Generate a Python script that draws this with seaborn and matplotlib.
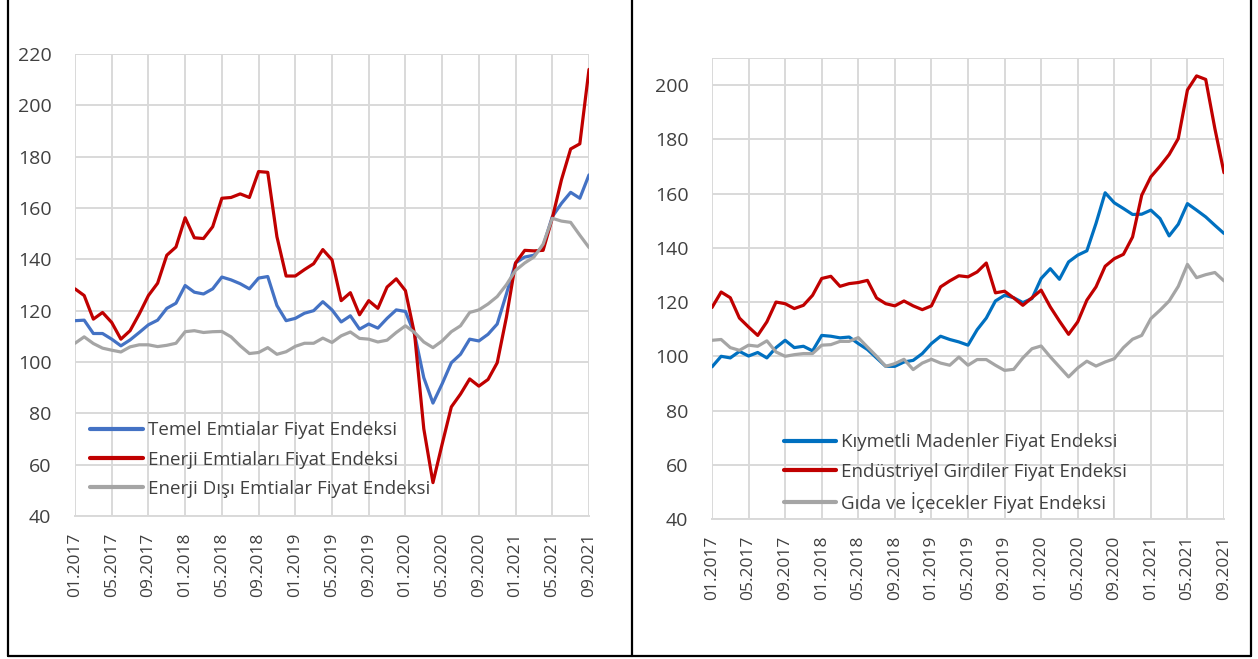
import numpy as np
import pandas as pd
import seaborn as sns
import matplotlib
matplotlib.use("Agg")
import matplotlib.pyplot as plt
from matplotlib.lines import Line2D

# ---------------- data ----------------
months = [f"{m:02d}.{y}" for y in range(2017, 2022) for m in range(1, 13)][:57]
tick_labels = ["01.2017", "05.2017", "09.2017", "01.2018", "05.2018", "09.2018",
               "01.2019", "05.2019", "09.2019", "01.2020", "05.2020", "09.2020",
               "01.2021", "05.2021", "09.2021"]

left_names = ["Temel Emtialar Fiyat Endeksi", "Enerji Emtiaları Fiyat Endeksi",
              "Enerji Dışı Emtialar Fiyat Endeksi"]
temel = [116.1, 116.3, 111.1, 111.1, 108.9, 106.3, 108.6, 111.5, 114.5, 116.3,
         120.9, 122.9, 129.8, 127.2, 126.5, 128.5, 133.1, 132.0, 130.5, 128.5,
         132.7, 133.3, 122.0, 116.1, 117.0, 119.0, 120.0, 123.5, 120.3, 115.6,
         118.0, 112.8, 114.8, 113.2, 117.0, 120.3, 119.7, 110.8, 93.9, 84.0,
         91.5, 99.7, 103.0, 108.9, 108.2, 110.8, 114.8, 126.5, 138.6, 140.9,
         141.6, 145.1, 156.6, 161.8, 166.1, 163.8, 172.9]
enerji = [128.5, 125.9, 116.7, 119.3, 115.4, 108.9, 112.2, 118.7, 125.9, 130.7,
          141.6, 144.8, 156.2, 148.4, 148.1, 152.7, 163.8, 164.1, 165.5, 164.1,
          174.2, 173.9, 148.8, 133.5, 133.5, 136.0, 138.3, 143.8, 139.8, 123.9,
          127.0, 118.4, 123.9, 120.9, 129.2, 132.4, 127.8, 110.8, 74.0, 53.0,
          68.0, 82.5, 87.5, 93.4, 90.6, 93.2, 99.7, 117.4, 138.6, 143.5,
          143.3, 143.5, 156.0, 171.0, 183.0, 185.0, 214.0]
enerji_disi = [107.3, 109.8, 107.2, 105.4, 104.6, 103.9, 105.9, 106.7, 106.7, 106.0,
               106.5, 107.3, 111.8, 112.2, 111.5, 111.8, 111.9, 109.8, 106.3, 103.3,
               103.7, 105.6, 103.0, 104.0, 106.1, 107.3, 107.3, 109.3, 107.6, 110.2,
               111.7, 109.2, 108.9, 107.8, 108.5, 111.5, 114.1, 111.5, 107.8, 105.6,
               108.2, 111.8, 114.1, 119.3, 120.3, 122.6, 125.5, 130.1, 135.7, 138.6,
               140.9, 145.9, 156.0, 154.9, 154.4, 149.4, 144.6]

right_names = ["Kıymetli Madenler Fiyat Endeksi", "Endüstriyel Girdiler Fiyat Endeksi",
               "Gıda ve İçecekler Fiyat Endeksi"]
kiymetli = [96.1, 100.0, 99.4, 101.8, 100.1, 101.4, 99.4, 103.2, 105.9, 103.2,
            103.7, 102.0, 107.7, 107.4, 106.8, 107.1, 104.7, 102.5, 99.4, 96.3,
            96.3, 97.9, 98.5, 101.0, 104.7, 107.4, 106.2, 105.3, 104.1, 109.8,
            114.1, 120.4, 122.5, 121.6, 119.8, 121.3, 128.7, 132.3, 128.4, 134.8,
            137.3, 138.9, 149.0, 160.3, 156.6, 154.5, 152.3, 152.4, 153.9, 150.8,
            144.4, 148.7, 156.3, 153.9, 151.4, 148.3, 145.3]
endustriyel = [118.0, 123.7, 121.6, 114.1, 110.8, 107.7, 112.7, 120.0, 119.4, 117.6,
               118.8, 122.5, 128.7, 129.5, 125.8, 126.8, 127.2, 128.0, 121.5, 119.4,
               118.6, 120.4, 118.6, 117.2, 118.6, 125.6, 127.8, 129.7, 129.3, 131.1,
               134.4, 123.4, 124.0, 121.5, 118.8, 121.6, 124.4, 118.2, 113.0, 108.1,
               112.7, 120.7, 125.6, 133.2, 136.0, 137.6, 144.0, 159.4, 166.2, 170.1,
               174.4, 180.3, 198.2, 203.4, 202.1, 184.0, 167.7]
gida = [105.9, 106.2, 103.2, 102.2, 104.1, 103.7, 105.7, 101.6, 100.0, 100.6,
        101.0, 101.0, 104.1, 104.3, 105.5, 105.5, 106.9, 103.4, 100.0, 96.3,
        97.3, 98.9, 95.1, 97.5, 98.9, 97.5, 96.7, 99.7, 96.7, 98.8,
        98.8, 96.7, 94.8, 95.2, 99.4, 102.8, 103.8, 99.8, 96.1, 92.4,
        95.7, 98.2, 96.4, 97.9, 99.1, 103.2, 106.3, 107.7, 113.9, 117.0,
        120.4, 125.8, 133.9, 129.0, 130.1, 130.9, 127.8]

left_colors = ["#4472C4", "#C00000", "#A5A5A5"]
right_colors = ["#0070C0", "#C00000", "#A5A5A5"]

# ---------------- style ----------------
sns.set_theme(style="white")
plt.rcParams["font.family"] = ["Open Sans", "DejaVu Sans"]
TXT = "#404040"
GRID = "#D9D9D9"

fig = plt.figure(figsize=(12.58, 6.59), dpi=100)


def build_df(names, series):
    rows = []
    for n, s in zip(names, series):
        for i, v in enumerate(s):
            rows.append({"idx": i, "month": months[i], "value": v, "series": n})
    return pd.DataFrame(rows)


def draw(rect, names, series, colors, ylim, yticks, leg_anchor):
    ax = fig.add_axes(rect)
    df = build_df(names, series)
    sns.lineplot(data=df, x="idx", y="value", hue="series", hue_order=names,
                 palette=colors, linewidth=2.3, sort=False, ax=ax, legend=False,
                 zorder=3)
    ax.set_xlim(0, len(months) - 1)
    ax.set_ylim(*ylim)
    ax.set_yticks(yticks)
    ax.set_yticklabels([str(t) for t in yticks], fontsize=14, color=TXT)
    xt = list(range(0, len(months), 4))
    ax.set_xticks(xt)
    ax.set_xticklabels(tick_labels, rotation=90, fontsize=12.5, color=TXT)
    ax.set_xlabel("")
    ax.set_ylabel("")
    for x in xt:
        ax.axvline(x, color=GRID, lw=1.4, zorder=1)
    for y in list(yticks) + [ylim[1]]:
        ax.axhline(y, color=GRID, lw=1.4, zorder=1)
    for sp in ax.spines.values():
        sp.set_visible(False)
    ax.tick_params(axis="y", length=0, pad=17)
    ax.tick_params(axis="x", length=5, width=1.4, color=GRID, pad=7, direction="out")
    ax.spines["bottom"].set_visible(True)
    ax.spines["bottom"].set_color(GRID)
    ax.spines["bottom"].set_linewidth(1.4)
    handles = [Line2D([0], [0], color=c, lw=3.0) for c in colors]
    leg = ax.legend(handles, names, loc="upper left", bbox_to_anchor=leg_anchor,
                    frameon=False, fontsize=13.5, handlelength=2.8,
                    handletextpad=0.25, labelspacing=0.6, borderpad=0,
                    borderaxespad=0)
    for t in leg.get_texts():
        t.set_color(TXT)
    return ax


W, H = 1258, 659
ax1 = draw([75 / W, 1 - 516 / H, (589 - 75) / W, (516 - 54) / H],
           left_names, [temel, enerji, enerji_disi], left_colors,
           (40, 220), list(range(40, 221, 20)), (0.03, 0.205))
ax2 = draw([712 / W, 1 - 519 / H, (1224 - 712) / W, (519 - 58) / H],
           right_names, [kiymetli, endustriyel, gida], right_colors,
           (40, 210), list(range(40, 201, 20)), (0.14, 0.186))

# panel borders
bc = "black"
lw = 1.6
for xpix in (8, 632, 1251):
    fig.add_artist(Line2D([xpix / W, xpix / W], [1, 1 - 656 / H], color=bc, lw=lw,
                          transform=fig.transFigure))
fig.add_artist(Line2D([8 / W, 1251 / W], [1 - 656 / H, 1 - 656 / H], color=bc, lw=lw,
                      transform=fig.transFigure))

fig.savefig("out.png", dpi=100, facecolor="white")
